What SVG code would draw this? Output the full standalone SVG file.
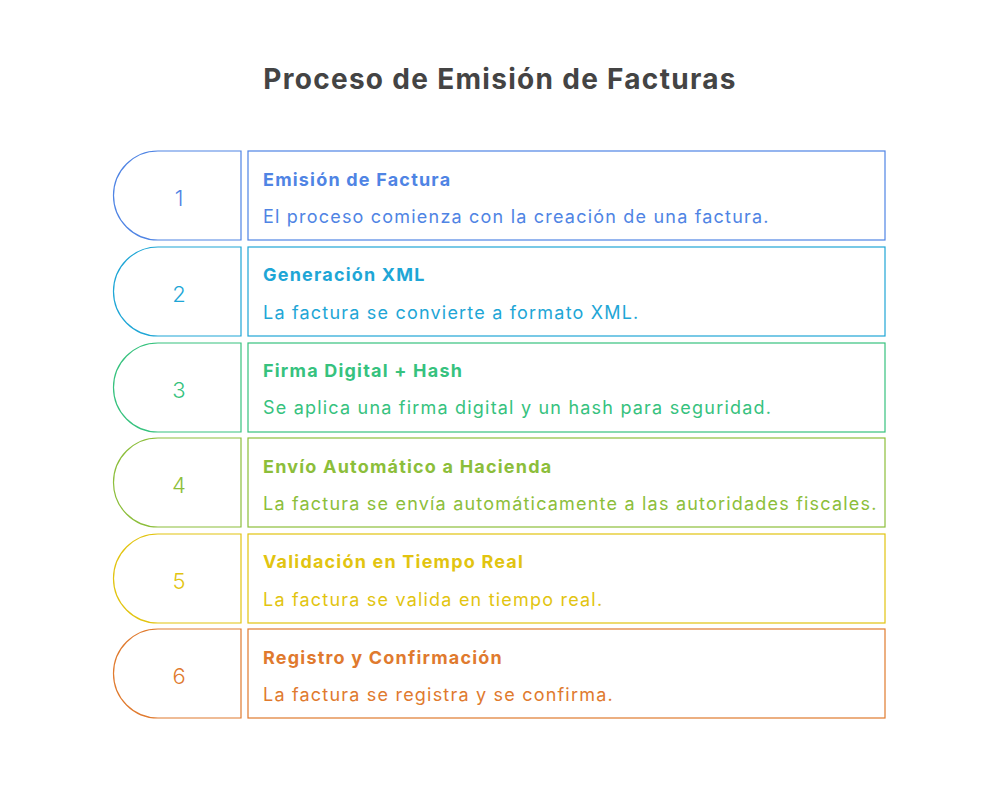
<svg xmlns="http://www.w3.org/2000/svg" width="1000" height="800" viewBox="0 0 1000 800">
<style>
text{font-family:Inter,"Open Sans",sans-serif}
.t{font-size:28px;font-weight:700;fill:#444;letter-spacing:1.3px}
.n{font-size:22px;text-anchor:middle;font-weight:300}
.h{font-size:18px;font-weight:700;letter-spacing:1.2px}
.d{font-size:18px;letter-spacing:1.2px}
path,rect{fill:#fff;stroke-width:1.2}
</style>
<rect width="1000" height="800" fill="#fff" stroke="none"/>
<text class="t" x="500" y="89" text-anchor="middle">Proceso de Emisión de Facturas</text>
<g id="s1" stroke="#4f84e4" fill="#4f84e4"><path d="M158,151H241V240H158A44.5,44.5 0 0 1 158,151Z"/><rect x="248" y="151" width="637" height="89"/><text class="n" x="179" y="206" stroke="none">1</text><text class="h" x="263" y="186" stroke="none">Emisión de Factura</text><text class="d" x="263" y="223" stroke="none">El proceso comienza con la creación de una factura.</text></g>
<g id="s2" stroke="#1ea6d6" fill="#1ea6d6"><path d="M158,247H241V336H158A44.5,44.5 0 0 1 158,247Z"/><rect x="248" y="247" width="637" height="89"/><text class="n" x="179" y="302" stroke="none">2</text><text class="h" x="263" y="281" stroke="none">Generación XML</text><text class="d" x="263" y="319" stroke="none">La factura se convierte a formato XML.</text></g>
<g id="s3" stroke="#36c27e" fill="#36c27e"><path d="M158,343H241V432H158A44.5,44.5 0 0 1 158,343Z"/><rect x="248" y="343" width="637" height="89"/><text class="n" x="179" y="398" stroke="none">3</text><text class="h" x="263" y="377" stroke="none">Firma Digital + Hash</text><text class="d" x="263" y="414" stroke="none">Se aplica una firma digital y un hash para seguridad.</text></g>
<g id="s4" stroke="#8cbe3a" fill="#8cbe3a"><path d="M158,438H241V527H158A44.5,44.5 0 0 1 158,438Z"/><rect x="248" y="438" width="637" height="89"/><text class="n" x="179" y="493" stroke="none">4</text><text class="h" x="263" y="473" stroke="none">Envío Automático a Hacienda</text><text class="d" x="263" y="510" stroke="none">La factura se envía automáticamente a las autoridades fiscales.</text></g>
<g id="s5" stroke="#e2c410" fill="#e2c410"><path d="M158,534H241V623H158A44.5,44.5 0 0 1 158,534Z"/><rect x="248" y="534" width="637" height="89"/><text class="n" x="179" y="589" stroke="none">5</text><text class="h" x="263" y="568" stroke="none">Validación en Tiempo Real</text><text class="d" x="263" y="606" stroke="none">La factura se valida en tiempo real.</text></g>
<g id="s6" stroke="#e07a2e" fill="#e07a2e"><path d="M158,629H241V718H158A44.5,44.5 0 0 1 158,629Z"/><rect x="248" y="629" width="637" height="89"/><text class="n" x="179" y="684" stroke="none">6</text><text class="h" x="263" y="664" stroke="none">Registro y Confirmación</text><text class="d" x="263" y="701" stroke="none">La factura se registra y se confirma.</text></g>
<g id="connectors"/>
</svg>
